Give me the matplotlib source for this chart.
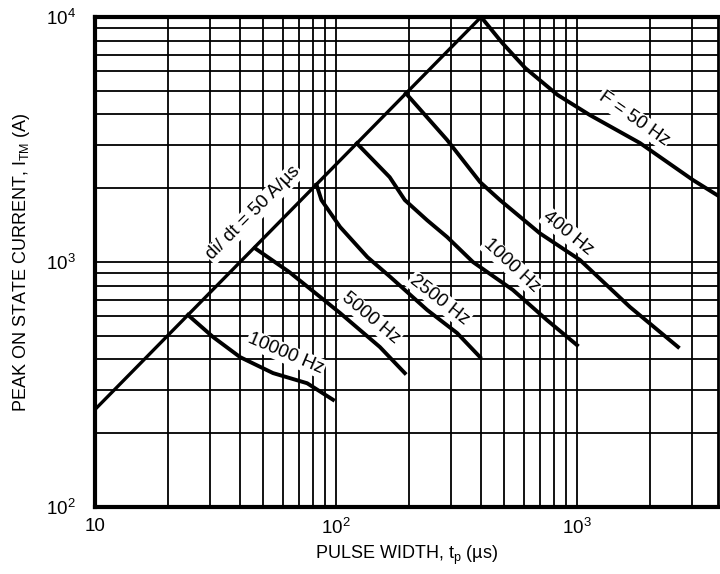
import numpy as np
import matplotlib
matplotlib.use("Agg")
import matplotlib.pyplot as plt
from matplotlib.ticker import LogLocator, NullFormatter, FixedLocator, FixedFormatter

plt.rcParams['font.family'] = ['Liberation Sans', 'DejaVu Sans']
plt.rcParams['mathtext.fontset'] = 'custom'
plt.rcParams['mathtext.rm'] = 'Liberation Sans'
plt.rcParams['mathtext.it'] = 'Liberation Sans'

# --- data (pulse width in us, peak current in A) ---
didt_t = [10, 400]
didt_i = [250, 10000]

f50_t = [400, 490, 610, 830, 1130, 1824, 3030, 3900]
f50_i = [10000, 7830, 6190, 4810, 3980, 3060, 2160, 1850]

f400_t = [195, 289, 396, 479, 701, 1028, 1659, 2625]
f400_i = [4880, 3150, 2120, 1790, 1310, 1020, 655, 450]

f1000_t = [122, 167, 193, 239, 289, 370, 542, 751, 1000]
f1000_i = [3050, 2220, 1790, 1480, 1265, 1000, 769, 579, 458]

f2500_t = [83, 87, 104, 135, 168, 239, 318, 396]
f2500_i = [2070, 1790, 1390, 1047, 869, 637, 513, 409]

f5000_t = [46, 64, 104, 152, 193]
f5000_i = [1140, 910, 619, 450, 352]

f10000_t = [24.3, 30.9, 40, 54.8, 75.9, 97.2]
f10000_i = [608, 494, 409, 352, 320, 274]

curves = [
    (f50_t, f50_i), (f400_t, f400_i), (f1000_t, f1000_i),
    (f2500_t, f2500_i), (f5000_t, f5000_i), (f10000_t, f10000_i),
]

# label text, position (data), rotation
labels = [
    ("di/ dt = 50 A/\u00b5s", 45.5, 1580, 45),
    ("F = 50 Hz", 1720, 3840, -35),
    ("400 Hz", 920, 1310, -39),
    ("1000 Hz", 535, 965, -43),
    ("2500 Hz", 268, 700, -38),
    ("5000 Hz", 139, 590, -40),
    ("10000 Hz", 62, 422, -23),
]

fig = plt.figure(figsize=(7.2, 5.74), dpi=100)
ax = fig.add_axes([95 / 720, 67 / 574, (718 - 95) / 720, 490 / 574])
ax.set_xscale('log')
ax.set_yscale('log')
ax.set_xlim(10, 10 ** (1 + (718 - 95) / 241))
ax.set_ylim(100, 10000)

# grid
ax.xaxis.set_minor_locator(LogLocator(base=10, subs=np.arange(2, 10)))
ax.yaxis.set_minor_locator(LogLocator(base=10, subs=np.arange(2, 10)))
ax.xaxis.set_minor_formatter(NullFormatter())
ax.yaxis.set_minor_formatter(NullFormatter())
ax.grid(True, which='both', color='black', lw=1.3)
ax.set_axisbelow(True)

ax.xaxis.set_major_locator(FixedLocator([10, 100, 1000]))
ax.xaxis.set_major_formatter(FixedFormatter(['10', '$10^2$', '$10^3$']))
ax.yaxis.set_major_locator(FixedLocator([100, 1000, 10000]))
ax.yaxis.set_major_formatter(FixedFormatter(['$10^2$', '$10^3$', '$10^4$']))
ax.tick_params(which='both', length=0, labelsize=13.5, pad=8)
ax.tick_params(axis='y', pad=14)

for name, sp in ax.spines.items():
    sp.set_linewidth(3.0 if name != 'right' else 2.0)
    sp.set_color('black')

ax.plot(didt_t, didt_i, color='black', lw=2.4, solid_capstyle='butt', zorder=2)
for t, i in curves:
    ax.plot(t, i, color='black', lw=2.8, solid_joinstyle='round', zorder=2)

# labels sit on white patches that break the grid but not the curves
for txt, x, y, rot in labels:
    ax.text(x, y, txt, fontsize=13.5, rotation=rot, rotation_mode='anchor',
            ha='center', va='center', zorder=1.5,
            bbox=dict(facecolor='white', edgecolor='none', pad=1.0))

ax.set_xlabel('PULSE WIDTH, t$_\\mathregular{p}$ (\u00b5s)', fontsize=13, labelpad=4)
ax.set_ylabel('PEAK ON STATE CURRENT, I$_\\mathregular{TM}$ (A)', fontsize=13, labelpad=10)

fig.savefig('out.png', dpi=100)
